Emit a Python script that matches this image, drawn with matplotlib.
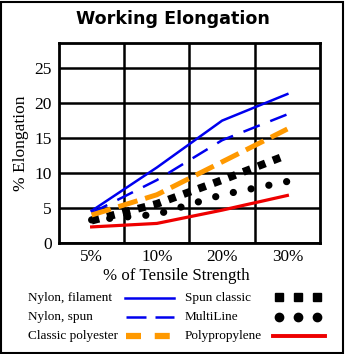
import matplotlib
matplotlib.use("Agg")
import matplotlib.pyplot as plt
from matplotlib.lines import Line2D
from matplotlib.patches import Rectangle

categories = ["5%", "10%", "20%", "30%"]
nylon_filament = [4.6, 10.8, 17.5, 21.3]
nylon_spun = [4.3, 9.0, 14.7, 18.4]
classic_polyester = [4.0, 6.9, 11.6, 16.3]
spun_classic = [3.2, 5.6, 9.0, 12.6]
multiline = [3.3, 4.1, 6.9, 8.8]
polypropylene = [2.3, 2.8, 4.7, 6.8]
yticks = [0, 5, 10, 15, 20, 25]

W, H = 345, 354
fig = plt.figure(figsize=(W / 100, H / 100), dpi=100)
serif = "Liberation Serif"

ax = fig.add_axes([59 / W, (H - 243) / H, (320 - 59) / W, (243 - 43) / H])
x = list(range(len(categories)))

ax.plot(x, nylon_filament, color="#0000ee", lw=1.8, zorder=5)
ax.plot(x, nylon_spun, color="#0000ee", lw=1.8, dashes=(7, 4.5), zorder=5)
ax.plot(x, classic_polyester, color="#ff9900", lw=3.6, dashes=(4, 1.6), zorder=5)
ax.plot(x, spun_classic, color="black", lw=5.6, dashes=(1, 1.05),
        dash_capstyle="butt", zorder=4)
ax.plot(x, multiline, color="black", lw=5.2, dashes=(0.01, 2.5),
        dash_capstyle="round", zorder=4)
ax.plot(x, polypropylene, color="#ee0000", lw=2.3, zorder=5)

ax.set_xlim(-0.5, 3.5)
ax.set_ylim(0, 28.6)
ax.set_xticks(x)
ax.set_xticklabels(categories, fontfamily=serif, fontsize=12.3)
ax.set_yticks(yticks)
ax.set_yticklabels([str(v) for v in yticks], fontfamily=serif, fontsize=12.5)
ax.set_xticks([0.5, 1.5, 2.5], minor=True)
ax.tick_params(axis="both", which="both", length=0)
ax.tick_params(axis="x", pad=4.5)
ax.tick_params(axis="y", pad=5)
ax.grid(True, which="minor", axis="x", color="black", lw=1.8)
ax.grid(True, which="major", axis="y", color="black", lw=1.8)
ax.set_axisbelow(True)
for s in ax.spines.values():
    s.set_linewidth(2.0)
ax.set_ylabel("% Elongation", fontfamily=serif, fontsize=12.5, labelpad=4)

fig.text(176 / W, (H - 276.5) / H, "% of Tensile Strength", ha="center",
         va="center", fontfamily=serif, fontsize=12.2)
fig.text(0.5, (H - 19) / H, "Working Elongation", ha="center", va="center",
         fontsize=12.6, fontweight="bold", family="DejaVu Sans")

# legend area in pixel coordinates
lg = fig.add_axes([0, 0, 1, 1], facecolor="none")
lg.set_xlim(0, W)
lg.set_ylim(H, 0)
lg.axis("off")
rows = [298, 317, 336]
fs = 9.5
left_labels = ["Nylon, filament", "Nylon, spun", "Classic polyester"]
right_labels = ["Spun classic", "MultiLine", "Polypropylene"]
for yy, t in zip(rows, left_labels):
    lg.text(28, yy, t, fontfamily=serif, fontsize=fs, va="center", ha="left")
for yy, t in zip(rows, right_labels):
    lg.text(185, yy, t, fontfamily=serif, fontsize=fs, va="center", ha="left")
lg.add_line(Line2D([125, 174], [rows[0]] * 2, color="#0000ee", lw=1.8))
lg.add_line(Line2D([126, 174], [rows[1]] * 2, color="#0000ee", lw=1.8, dashes=(8, 3.6)))
lg.add_line(Line2D([126, 174], [rows[2]] * 2, color="#ff9900", lw=4.5, dashes=(2.4, 2.2)))
lg.add_line(Line2D([279, 298, 317], [rows[0] - 1] * 3, color="black", ls="none",
                   marker="s", markersize=6))
lg.add_line(Line2D([279, 298, 317], [rows[1]] * 3, color="black", ls="none",
                   marker="o", markersize=6))
lg.add_line(Line2D([273, 325], [rows[2]] * 2, color="#ee0000", lw=2.8))

fig.add_artist(Rectangle((1 / W, 1 / H), (W - 3) / W, (H - 3) / H,
                         transform=fig.transFigure, fill=False,
                         edgecolor="black", lw=1.5))

fig.savefig("out.png", dpi=100)
